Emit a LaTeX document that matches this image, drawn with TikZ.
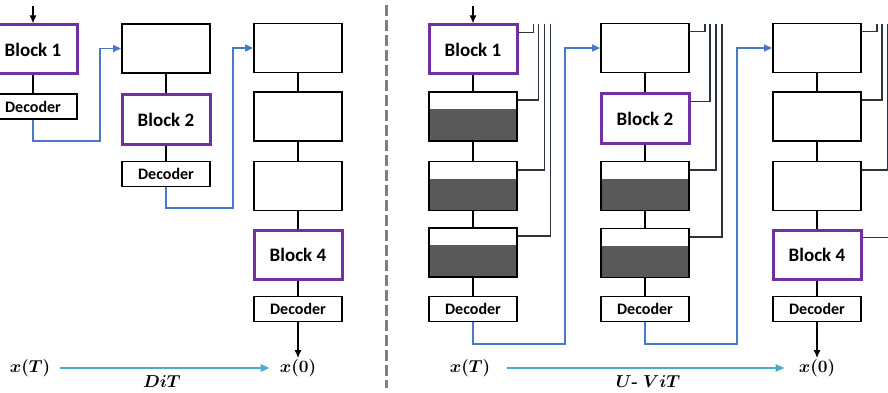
\documentclass[tikz,border=0pt]{standalone}
\usepackage{amsmath}
\usepackage[no-math]{fontspec}
\newfontfamily\calibri{Carlito}
\usetikzlibrary{calc,arrows.meta}
\definecolor{blkpurple}{HTML}{7030A0}
\definecolor{linkblue}{HTML}{4A78C8}
\definecolor{timecyan}{HTML}{4BACC6}
\definecolor{darkfill}{HTML}{595959}
\definecolor{skipgray}{HTML}{2B3440}
\definecolor{divgray}{HTML}{7F7F7F}
\tikzset{
  box/.style={draw=black,line width=1.9pt,minimum width=88pt,minimum height=49pt,inner sep=0pt},
  blk/.style={box,draw=blkpurple,line width=3pt,font=\calibri\bfseries\fontsize{19}{22}\selectfont},
  dec/.style={box,minimum height=25pt,font=\calibri\bfseries\fontsize{16}{18}\selectfont},
  halfbox/.style={box,path picture={\fill[darkfill] (path picture bounding box.south west) rectangle ([yshift=-17pt]path picture bounding box.north east);}},
  link/.style={draw=black,line width=1.9pt},
  arr/.style={draw=black,line width=1.4pt,-{Latex[length=8pt,width=7pt]}},
  jump/.style={draw=linkblue,line width=1.4pt,-{Triangle[length=8pt,width=7pt]}},
  skip/.style={draw=skipgray,line width=1.9pt},
  timeline/.style={draw=timecyan,line width=2.2pt,-{Triangle[length=9pt,width=7pt]}},
  lbl/.style={font=\boldmath\fontsize{17}{20}\selectfont,inner sep=1pt}
}
\begin{document}
\begin{tikzpicture}[x=1pt,y=-1pt]
        \useasboundingbox (0,0) rectangle (888,393);
        % left part: DiT
        \node[blk] (l1) at (33,49.5) {Block 1};
        \node[dec] (l1d) at (33,106.5) {Decoder};
        \node[box] (l2a) at (166,48.5) {};
        \node[blk] (l2) at (166,119.5) {Block 2};
        \node[dec] (l2d) at (166,174) {Decoder};
        \node[box] (l3a) at (298,48) {};
        \node[box] (l3b) at (298,116.5) {};
        \node[box] (l3c) at (298,186) {};
        \node[blk] (l4) at (298,255) {Block 4};
        \node[dec] (l4d) at (298,309) {Decoder};
        \coordinate (lin) at (33,6);
        \draw[arr] (lin) -- (l1);
        \foreach \u/\v in {l1/l1d,l2a/l2,l2/l2d,l3a/l3b,l3b/l3c,l3c/l4,l4/l4d}
          \draw[link] (\u) -- (\v);
        \draw[jump] (l1d.south) |- (100,141) |- (l2a.west);
        \draw[jump] (l2d.south) |- (233,208) |- (l3a.west);
        \node[lbl] (xT) at (30,368) {$x(T)$};
        \node[lbl] (x0) at (298,368) {$x(0)$};
        \draw[arr] (l4d.south) -- (l4d.south |- x0.north);
        \draw[timeline,shorten <=9pt,shorten >=9pt] (xT) -- (x0);
        \node[lbl] (dit) at (162,382) {$DiT$};
        % divider
        \draw[divgray,line width=3pt,dash pattern=on 11pt off 4pt] (386,5) -- (386,388);
        % right part: U-ViT
        \node[blk] (a1) at (473,49.5) {Block 1};
        \node[halfbox] (a2) at (473,116.5) {};
        \node[halfbox] (a3) at (473,186) {};
        \node[halfbox] (a4) at (473,252.5) {};
        \node[dec] (a5) at (473,309) {Decoder};
        \node[box] (b1) at (645,48) {};
        \node[blk] (b2) at (645,118.5) {Block 2};
        \node[halfbox] (b3) at (645,186) {};
        \node[halfbox] (b4) at (645,253) {};
        \node[dec] (b5) at (645,309) {Decoder};
        \node[box] (c1) at (817,48) {};
        \node[box] (c2) at (817,116.5) {};
        \node[box] (c3) at (817,186) {};
        \node[blk] (c4) at (817,254.5) {Block 4};
        \node[dec] (c5) at (817,309) {Decoder};
        \coordinate (ain) at (473,6);
        \draw[arr] (ain) -- (a1);
        \foreach \col in {a,b,c}{
          \foreach \i/\j in {1/2,2/3,3/4,4/5}
            \draw[link] (\col\i) -- (\col\j);
          % routine for skips
          \foreach \i/\dx in {1/15,2/20,3/26,4/32}{
            \coordinate (\col s\i) at ($(\col1.north east)+(\dx,1)$);
            \draw[skip] ([yshift=-9pt]\col\i.north east) -| (\col s\i);
          }
        }
        \draw[jump] (a5.south) |- (565,344) |- (b1.west);
        \draw[jump] (b5.south) |- (737,344) |- (c1.west);
        \node[lbl] (xT2) at (470,368) {$x(T)$};
        \node[lbl] (x02) at (817,368) {$x(0)$};
        \draw[arr] (c5.south) -- (c5.south |- x02.north);
        \draw[timeline,shorten <=16pt,shorten >=13pt] (xT2) -- (x02);
        \node[lbl] (uvit) at (648,382) {$U$\textbf{-} $ViT$};
\end{tikzpicture}
\end{document}
